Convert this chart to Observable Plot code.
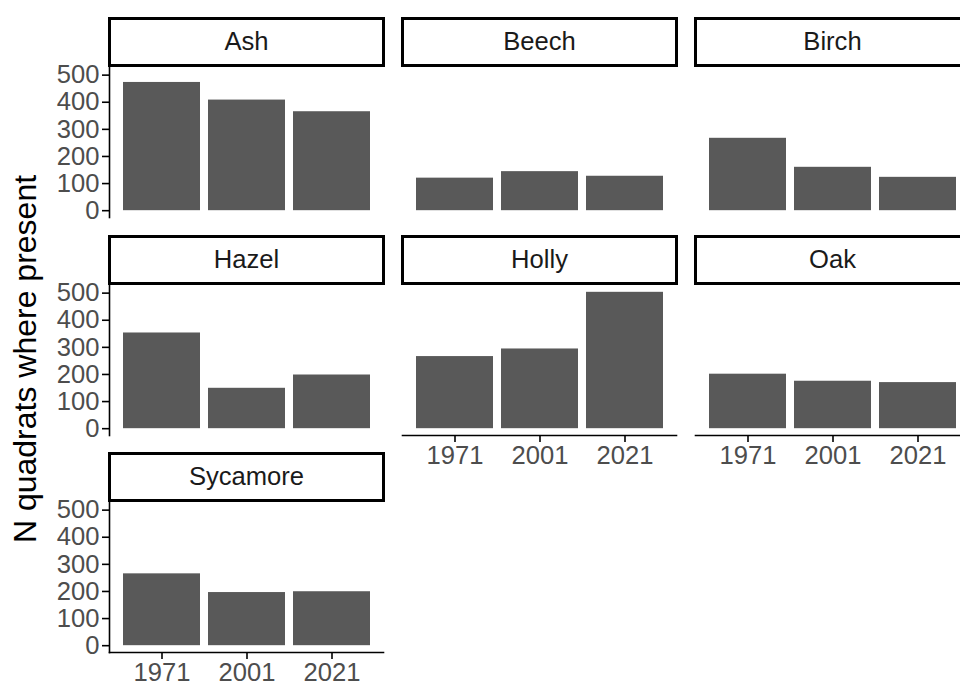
<!DOCTYPE html>
<html>
<head>
<meta charset="utf-8">
<script src="https://cdn.jsdelivr.net/npm/d3@7"></script>
<script src="https://cdn.jsdelivr.net/npm/@observablehq/plot@0.6"></script>
<style>
  html, body { margin: 0; padding: 0; background: #fff; overflow: hidden; }
  #chart { position: relative; width: 960px; height: 686px; overflow: hidden; background: #fff;
           font-family: "Liberation Sans", Arial, sans-serif; }
  #chart svg { position: absolute; }
  #ytitle { position: absolute; left: 25px; top: 359px; transform: translate(-50%, -50%) rotate(-90deg);
            white-space: nowrap; font-size: 32px; color: #000; line-height: 1; }
</style>
</head>
<body>
<div id="chart"><div id="ytitle"></div></div>
<script>
// ---- data ----
const species = ["Ash", "Beech", "Birch", "Hazel", "Holly", "Oak", "Sycamore"];
const years = ["1971", "2001", "2021"];
const ash = [473, 408, 365];
const beech = [120, 144, 127];
const birch = [267, 160, 123];
const hazel = [353, 149, 198];
const holly = [266, 294, 503];
const oak = [201, 175, 170];
const sycamore = [265, 196, 199];
const yTicks = [0, 100, 200, 300, 400, 500];
const yTitle = "N quadrats where present";

const seriesBySpecies = {Ash: ash, Beech: beech, Birch: birch, Hazel: hazel, Holly: holly, Oak: oak, Sycamore: sycamore};

// ---- layout ----
const ncol = 3;
const colLeft = [109, 402, 695];
const rowTop = [67, 284.5, 502];
const panelW = 274, panelH = 150, stripH = 47, stripGap = 2;
const mL = 80, mR = 5, mT = stripH + stripGap + 4, mB = 50;
const font = "'Liberation Sans', Arial, sans-serif";
const txt = 25.6;

const ymax = d3.max(species, s => d3.max(seriesBySpecies[s]));
const yDomain = [-0.05 * ymax, 1.05 * ymax];

document.getElementById("ytitle").textContent = yTitle;
const chart = document.getElementById("chart");

species.forEach((name, i) => {
  const r = Math.floor(i / ncol), c = i % ncol;
  const hasY = c === 0;
  const hasX = i + ncol >= species.length;
  const rows = years.map((y, k) => ({year: y, value: seriesBySpecies[name][k]}));
  const marks = [
    Plot.barY(rows, {x: "year", y: "value", fill: "#595959"}),
    Plot.frame({stroke: "black", strokeWidth: 3, fill: "white",
                insetTop: -(stripH + stripGap), insetBottom: panelH + stripGap}),
    Plot.text([name], {frameAnchor: "top", lineAnchor: "middle", text: d => d, dy: -(stripGap + stripH / 2),
                       fontSize: txt, fill: "#1a1a1a", fontFamily: font})
  ];
  if (hasY) {
    marks.push(Plot.axisY(yTicks, {tickSize: 7, tickPadding: 3, fontSize: txt, fill: "#4d4d4d",
                                   stroke: "black", strokeWidth: 1.6, label: null, fontFamily: font}));
    marks.push(Plot.frame({anchor: "left", stroke: "black", strokeWidth: 1.6}));
  }
  if (hasX) {
    marks.push(Plot.axisX({tickSize: 7, tickPadding: 3, fontSize: txt, fill: "#4d4d4d",
                           stroke: "black", strokeWidth: 1.6, label: null, fontFamily: font}));
    marks.push(Plot.frame({anchor: "bottom", stroke: "black", strokeWidth: 1.6}));
  }
  const svg = Plot.plot({
    width: mL + panelW + mR,
    height: mT + panelH + mB,
    marginLeft: mL, marginRight: mR, marginTop: mT, marginBottom: mB,
    style: {background: "transparent", overflow: "visible", fontFamily: font},
    x: {type: "band", domain: years, paddingInner: 0.1, paddingOuter: 0.15, axis: null},
    y: {domain: yDomain, axis: null},
    marks
  });
  svg.style.left = (colLeft[c] - mL) + "px";
  svg.style.top = (rowTop[r] - mT) + "px";
  chart.appendChild(svg);
});
</script>
</body>
</html>
